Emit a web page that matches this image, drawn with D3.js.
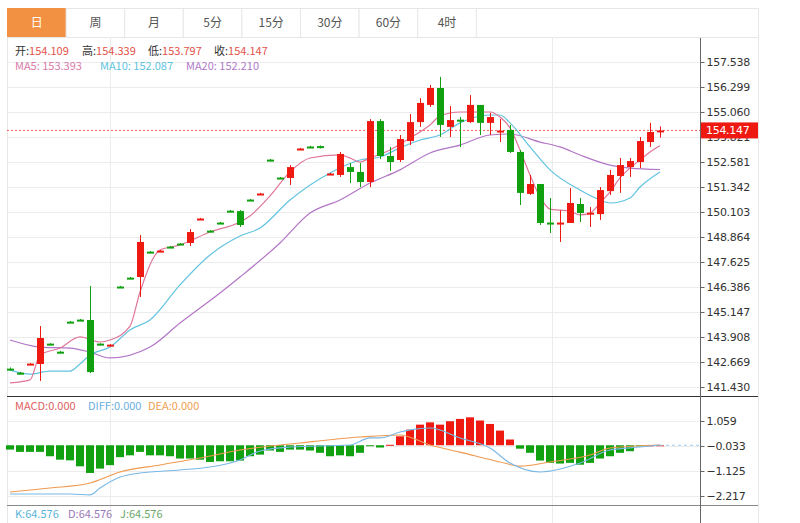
<!DOCTYPE html>
<html><head><meta charset="utf-8">
<script src="https://cdn.jsdelivr.net/npm/d3@7"></script>
<style>body{margin:0;background:#fff;font-family:"Noto Sans CJK SC","DejaVu Sans",sans-serif}</style>
</head><body>
<div id="chart"></div>
<script>
// ---------------- data ----------------
let tabs = ["日","周","月","5分","15分","30分","60分","4时"]
let opens  = [142.34,142.14,142.55,142.57,143.58,143.18,144.67,144.77,144.75,143.58,143.49,146.41,146.85,146.88,148.14,148.15,148.39,148.54,148.57,149.74,149.18,149.58,150.17,150.15,150.72,150.98,152.70,151.81,151.79,153.21,153.35,153.37,151.97,151.94,152.33,152.09,151.59,154.61,152.88,152.68,153.62,154.56,155.41,156.25,154.32,154.68,154.56,155.41,154.52,154.10,154.17,153.08,151.00,151.49,149.58,149.54,149.56,150.50,150.03,150.00,151.14,151.89,152.33,152.58,153.57,154.109]
let closes = [142.30,142.10,142.59,143.86,143.54,143.14,144.63,144.73,142.17,143.54,143.53,146.37,146.81,148.62,148.10,148.19,148.35,148.50,149.11,149.78,149.14,149.54,150.13,149.46,150.68,151.02,152.66,151.77,152.33,153.25,153.31,153.28,152.01,152.98,152.09,151.59,154.61,152.88,152.58,153.72,154.56,155.51,156.25,154.42,154.66,154.64,155.41,154.52,154.81,154.14,153.08,151.05,151.49,149.56,149.54,149.58,150.55,150.05,150.07,151.19,151.94,152.43,152.63,153.62,154.07,154.147]
let highs  = [142.40,142.18,142.62,144.45,143.60,143.22,144.70,144.80,146.44,143.60,143.56,146.44,146.88,148.96,148.17,148.22,148.42,148.57,149.26,149.81,149.21,149.61,150.20,150.20,150.75,151.05,152.73,151.84,152.43,153.28,153.38,153.40,152.04,153.08,152.53,152.53,154.71,154.71,153.33,153.92,154.96,155.75,156.40,156.80,155.36,154.81,155.90,155.41,155.01,154.71,154.42,153.18,151.94,151.49,150.80,150.20,151.29,150.80,150.35,151.34,152.19,152.78,152.78,153.82,154.52,154.339]
let lows   = [142.25,142.05,142.52,141.73,143.50,143.10,144.60,144.70,142.12,143.50,143.46,146.34,146.78,145.89,148.07,148.12,148.32,148.47,148.42,149.71,149.11,149.51,150.10,149.36,150.65,150.95,152.63,151.74,151.44,153.18,153.28,153.25,151.94,151.84,151.54,151.34,151.34,152.73,152.14,152.58,153.42,154.32,155.31,153.82,153.82,153.33,154.52,153.92,153.92,153.57,153.03,150.45,150.95,149.46,149.06,148.62,149.56,149.61,149.36,149.71,150.95,151.05,151.84,152.28,153.33,153.797]

// moving averages, sampled as [candle index, value]
let ma5  = [[0,141.63],[2,141.78],[3,143.02],[5,143.36],[7,143.91],[9,143.66],[10,143.76],[12,144.45],[13,146.14],[15,148.22],[17,148.47],[20,149.11],[23,149.61],[24,149.91],[26,150.90],[28,152.09],[30,152.78],[33,152.93],[34,152.78],[35,152.58],[36,152.78],[38,153.18],[40,153.77],[42,154.42],[43,154.86],[45,155.06],[48,155.06],[49,154.81],[50,154.27],[51,153.18],[52,151.94],[53,150.85],[54,150.25],[55,150.20],[56,150.15],[57,149.96],[58,150.05],[59,150.55],[60,151.10],[61,151.79],[62,152.28],[63,152.68],[64,153.08],[65,153.393]]
let ma10 = [[0,142.27],[2,142.07],[4,142.22],[6,142.22],[7,142.57],[8,143.02],[10,143.41],[12,144.26],[14,144.75],[17,146.49],[20,147.97],[23,148.91],[25,149.31],[28,150.70],[32,152.04],[35,152.68],[37,152.83],[39,153.28],[41,153.67],[43,153.92],[45,154.52],[48,154.91],[49,154.91],[50,154.52],[52,153.33],[54,152.19],[57,151.19],[59,150.70],[60,150.55],[62,150.80],[63,151.34],[65,152.087]]
let ma20 = [[0,143.76],[3,143.41],[6,143.36],[8,143.16],[10,142.87],[14,143.41],[17,144.60],[21,146.09],[23,146.88],[27,148.57],[30,150.05],[33,150.70],[36,151.54],[39,152.19],[42,153.03],[45,153.42],[48,153.92],[50,153.97],[53,153.57],[55,153.33],[57,152.93],[60,152.43],[62,152.28],[65,152.210]]

let macdHist = [-0.19,-0.29,-0.29,-0.29,-0.48,-0.63,-0.66,-0.92,-1.21,-1.02,-0.87,-0.52,-0.44,-0.29,-0.44,-0.44,-0.48,-0.58,-0.58,-0.63,-0.73,-0.70,-0.70,-0.67,-0.48,-0.41,-0.23,-0.29,-0.19,-0.19,-0.23,-0.33,-0.48,-0.44,-0.48,-0.33,-0.04,-0.10,0.02,0.39,0.68,0.90,1.00,0.90,1.05,1.15,1.22,1.08,0.93,0.64,0.25,-0.15,-0.33,-0.67,-0.77,-0.80,-0.77,-0.85,-0.77,-0.58,-0.48,-0.33,-0.26,-0.04,0,0]
let diff = [[0,-2.13],[3,-2.13],[6,-2.13],[8,-2.17],[9,-1.87],[11,-1.39],[13,-1.21],[17,-1.08],[20,-0.95],[23,-0.64],[25,-0.25],[28,-0.08],[34,0.01],[36,0.32],[37,0.32],[39,0.58],[40,0.67],[42,0.75],[45,0.32],[48,-0.12],[50,-0.78],[53,-1.17],[57,-0.78],[60,-0.21],[63,-0.08],[65,0.01]]
let dea  = [[0,-2.04],[4,-1.87],[8,-1.65],[11,-1.17],[15,-0.86],[19,-0.56],[23,-0.21],[29,0.10],[35,0.36],[39,0.45],[42,0.01],[45,-0.30],[49,-0.73],[51,-0.91],[54,-0.73],[58,-0.43],[60,-0.12],[65,0.01]]

let priceTicks = [157.538,156.299,155.060,153.821,152.581,151.342,150.103,148.864,147.625,146.386,145.147,143.908,142.669,141.430]
let macdTicks = [1.059,-0.033,-1.125,-2.217]
let lastPrice = 154.147

// ---------------- drawing ----------------
let W = 800, H = 523
let red = "#ee1a12", green = "#10a010"
let svg = d3.select("#chart").append("svg").attr("width", W).attr("height", H)
  .style("font-family", "'Noto Sans CJK SC','DejaVu Sans',sans-serif")

// tab bar
let tabW = 58.6
svg.append("rect").attr("x", 7.5).attr("y", 8.5).attr("width", 751).attr("height", 29)
  .attr("fill", "#fff").attr("stroke", "#e6e6e6")
tabs.forEach(function(t, i){
  svg.append("rect").attr("x", 7.5 + i*tabW).attr("y", 8.5).attr("width", tabW).attr("height", 29)
    .attr("fill", i == 0 ? "#f39143" : "#fff").attr("stroke", i == 0 ? "#f39143" : "#e6e6e6")
  svg.append("text").text(t).attr("x", 7.5 + i*tabW + tabW/2).attr("y", 27)
    .attr("text-anchor", "middle").attr("font-size", 12)
    .attr("fill", i == 0 ? "#fff" : "#555")
})

let x = d3.scaleLinear().domain([0, 65]).range([10, 660])
let y = d3.scaleLinear().domain([141.430, 157.538]).range([387, 62])
let ym = d3.scaleLinear().domain([-0.033, 1.059]).range([446, 421])

// frame & grid
svg.append("line").attr("x1", 7).attr("x2", 758).attr("y1", 37.5).attr("y2", 37.5).attr("stroke", "#e6e6e6")
svg.append("line").attr("x1", 758.5).attr("x2", 758.5).attr("y1", 37).attr("y2", 523).attr("stroke", "#e6e6e6")
svg.append("line").attr("x1", 7.5).attr("x2", 7.5).attr("y1", 37).attr("y2", 523).attr("stroke", "#e6e6e6")
priceTicks.forEach(function(v){
  svg.append("line").attr("x1", 7).attr("x2", 700).attr("y1", Math.round(y(v))+0.5).attr("y2", Math.round(y(v))+0.5).attr("stroke", "#ececec")
})
macdTicks.forEach(function(v){
  svg.append("line").attr("x1", 7).attr("x2", 700).attr("y1", Math.round(ym(v))+0.5).attr("y2", Math.round(ym(v))+0.5).attr("stroke", "#ececec")
})
;[110.5, 552.5].forEach(function(gx){
  svg.append("line").attr("x1", gx).attr("x2", gx).attr("y1", 37).attr("y2", 523).attr("stroke", "#ececec")
})
svg.append("line").attr("x1", 7).attr("x2", 758).attr("y1", 396.5).attr("y2", 396.5).attr("stroke", "#333")
svg.append("line").attr("x1", 7).attr("x2", 758).attr("y1", 505.5).attr("y2", 505.5).attr("stroke", "#888")
svg.append("line").attr("x1", 700.5).attr("x2", 700.5).attr("y1", 38).attr("y2", 523).attr("stroke", "#666")

// price axis
let yAxis = svg.append("g").attr("transform", "translate(700.5,0)")
  .call(d3.axisRight(y).tickValues(priceTicks).tickFormat(d3.format(".3f")).tickSize(4))
yAxis.select(".domain").remove()
yAxis.selectAll("text").attr("font-size", 11).attr("fill", "#333").attr("x", 6).attr("font-family", "'DejaVu Sans'").attr("letter-spacing", "-0.3")
yAxis.selectAll("line").attr("stroke", "#666")

let mAxis = svg.append("g").attr("transform", "translate(700.5,0)")
  .call(d3.axisRight(ym).tickValues(macdTicks).tickFormat(d3.format(".3f")).tickSize(4))
mAxis.select(".domain").remove()
mAxis.selectAll("text").attr("font-size", 11).attr("fill", "#333").attr("x", 6).attr("font-family", "'DejaVu Sans'").attr("letter-spacing", "-0.3")
mAxis.selectAll("line").attr("stroke", "#666")

// last price line
svg.append("line").attr("x1", 7).attr("x2", 700).attr("y1", y(lastPrice)).attr("y2", y(lastPrice))
  .attr("stroke", red).attr("stroke-dasharray", "2,2").attr("opacity", 0.7)
svg.append("rect").attr("x", 701).attr("y", y(lastPrice)-8).attr("width", 57).attr("height", 16).attr("fill", red)
svg.append("text").text(lastPrice.toFixed(3)).attr("x", 706).attr("y", y(lastPrice)+4)
  .attr("font-size", 11).attr("fill", "#fff").attr("font-family", "'DejaVu Sans'").attr("letter-spacing", "-0.3")

// moving averages
let line = d3.line().x(d => x(d[0])).y(d => y(d[1])).curve(d3.curveMonotoneX)
svg.append("path").attr("d", line(ma20)).attr("fill", "none").attr("stroke", "#b276c6").attr("stroke-width", 1.2)
svg.append("path").attr("d", line(ma10)).attr("fill", "none").attr("stroke", "#62c3e0").attr("stroke-width", 1.2)
svg.append("path").attr("d", line(ma5)).attr("fill", "none").attr("stroke", "#e0769a").attr("stroke-width", 1.2)

// candles
let candles = opens.map(function(o, i){ return {i:i, o:o, c:closes[i], h:highs[i], l:lows[i]} })
let cg = svg.selectAll(".candle").data(candles).enter().append("g").classed("candle", true)
function cColor(d){ return d.c >= d.o ? red : green }
cg.append("line").attr("x1", d => x(d.i)+0.5).attr("x2", d => x(d.i)+0.5)
  .attr("y1", d => y(d.h)).attr("y2", d => y(d.l)).attr("stroke", cColor)
cg.append("rect").attr("x", d => x(d.i)-3).attr("width", 7)
  .attr("y", d => y(Math.max(d.o, d.c)))
  .attr("height", d => Math.max(2, Math.abs(y(d.o) - y(d.c))))
  .attr("fill", cColor)

// header texts
function seg(label, val, px, py, col){
  let t = svg.append("text").attr("x", px).attr("y", py).attr("font-size", 11)
  t.append("tspan").text(label).attr("fill", "#333")
  t.append("tspan").text(val).attr("fill", col)
}
seg("开:", "154.109", 15, 55, "#e2524a")
seg("高:", "154.339", 82, 55, "#e2524a")
seg("低:", "153.797", 148, 55, "#e2524a")
seg("收:", "154.147", 214, 55, "#e2524a")
svg.append("text").attr("x", 15).attr("y", 70).attr("font-size", 11).attr("fill", "#d97aa8").text("MA5: 153.393")
svg.append("text").attr("x", 100).attr("y", 70).attr("font-size", 11).attr("fill", "#5fc3de").text("MA10: 152.087")
svg.append("text").attr("x", 186).attr("y", 70).attr("font-size", 11).attr("fill", "#b07ac8").text("MA20: 152.210")

// MACD panel
svg.append("text").attr("x", 15).attr("y", 410).attr("font-size", 11).attr("fill", "#e06060").text("MACD:0.000")
svg.append("text").attr("x", 88).attr("y", 410).attr("font-size", 11).attr("fill", "#6aaee0").text("DIFF:0.000")
svg.append("text").attr("x", 148).attr("y", 410).attr("font-size", 11).attr("fill", "#f0a050").text("DEA:0.000")

svg.selectAll(".hist").data(macdHist).enter().append("rect").classed("hist", true)
  .attr("x", (d, i) => x(i)-4).attr("width", 8)
  .attr("y", d => d >= 0 ? ym(d) : ym(0))
  .attr("height", d => Math.max(1, Math.abs(ym(d) - ym(0))))
  .attr("fill", d => d >= 0 ? red : green)

let mline = d3.line().x(d => x(d[0])).y(d => ym(d[1])).curve(d3.curveMonotoneX)
svg.append("path").attr("d", mline(dea)).attr("fill", "none").attr("stroke", "#f09a50").attr("stroke-width", 1.1)
svg.append("path").attr("d", mline(diff)).attr("fill", "none").attr("stroke", "#78b8e6").attr("stroke-width", 1.1)
svg.append("line").attr("x1", x(65)).attr("x2", 700).attr("y1", ym(0)).attr("y2", ym(0))
  .attr("stroke", "#9ccfee").attr("stroke-dasharray", "3,3")

// KDJ label
svg.append("text").attr("x", 15).attr("y", 518).attr("font-size", 11).attr("fill", "#5ab4d8").text("K:64.576")
svg.append("text").attr("x", 68).attr("y", 518).attr("font-size", 11).attr("fill", "#9a78b8").text("D:64.576")
svg.append("text").attr("x", 120).attr("y", 518).attr("font-size", 11).attr("fill", "#6aa868").text("J:64.576")
</script>
</body></html>
